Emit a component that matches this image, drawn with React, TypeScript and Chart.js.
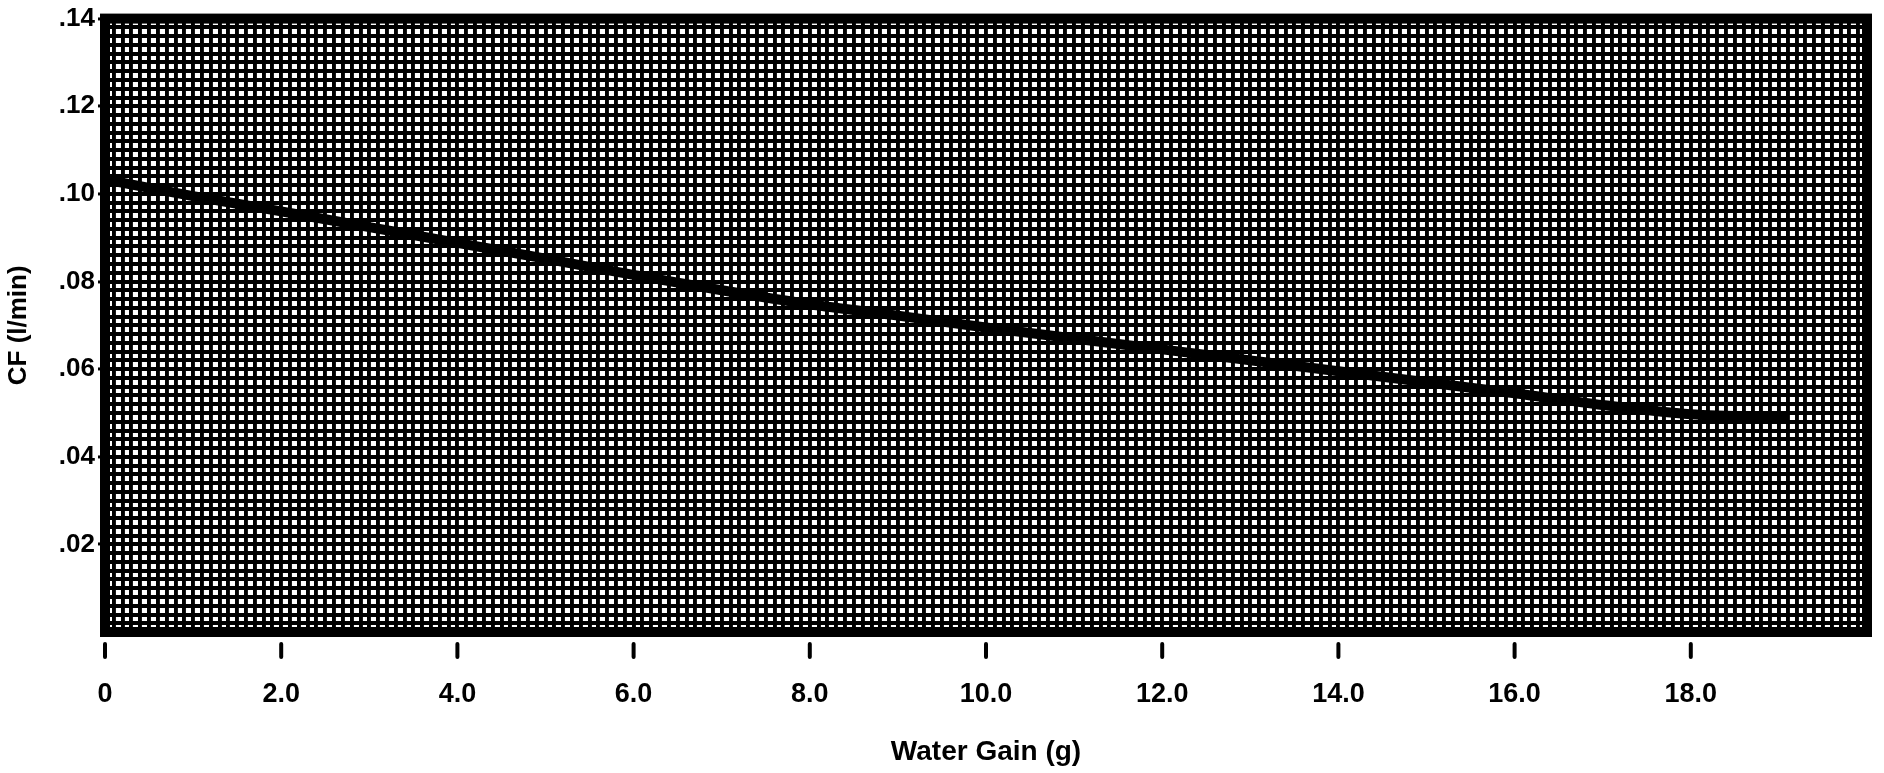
import React, { useEffect, useRef } from "react";
import { Chart, registerables } from "chart.js";

Chart.register(...registerables);

// Data
const waterGain = [0, 1, 2, 3, 4, 5, 6, 7, 8, 9, 10, 11, 12, 13, 14, 15, 16, 17, 18, 19.1];
const cfValues = [
  0.1033, 0.0995, 0.096, 0.0924, 0.0888, 0.0852, 0.0815, 0.078, 0.0748, 0.0722,
  0.0695, 0.067, 0.0645, 0.062, 0.0595, 0.057, 0.0545, 0.0518, 0.0497, 0.049,
];
const xTickValues = [0, 2, 4, 6, 8, 10, 12, 14, 16, 18];
const yTickValues = [0.02, 0.04, 0.06, 0.08, 0.1, 0.12, 0.14];
const xTitle = "Water Gain (g)";
const yTitle = "CF (l/min)";

const FONT = "'Liberation Sans', Arial, Helvetica, sans-serif";
const W = 1884;
const H = 773;

const isXLabel = (v: number) => xTickValues.some((t) => Math.abs(t - v) < 1e-6);
const isYLabel = (v: number) => yTickValues.some((t) => Math.abs(t - v) < 1e-7);

const framePlugin = {
  id: "frame",
  afterDatasetsDraw(chart: any) {
    const { ctx, chartArea } = chart;
    ctx.save();
    ctx.strokeStyle = "#000";
    ctx.lineWidth = 10;
    ctx.strokeRect(
      chartArea.left,
      chartArea.top,
      chartArea.right - chartArea.left,
      chartArea.bottom - chartArea.top
    );
    // x tick marks below the frame
    const xs = chart.scales.x;
    ctx.lineWidth = 4;
    ctx.lineCap = "round";
    for (const v of xTickValues) {
      const px = xs.getPixelForValue(v);
      ctx.beginPath();
      ctx.moveTo(px, chartArea.bottom + 12);
      ctx.lineTo(px, chartArea.bottom + 25);
      ctx.stroke();
    }
    ctx.restore();
  },
};

export default function App() {
  const canvasRef = useRef<HTMLCanvasElement | null>(null);

  useEffect(() => {
    if (!canvasRef.current) return;
    const chart = new Chart(canvasRef.current, {
      type: "line",
      data: {
        datasets: [
          {
            data: waterGain.map((x, i) => ({ x, y: cfValues[i] })),
            borderColor: "#000",
            borderWidth: 10,
            pointRadius: 0,
            tension: 0.3,
            fill: false,
          },
        ],
      },
      options: {
        animation: false,
        responsive: false,
        maintainAspectRatio: false,
        devicePixelRatio: 1,
        layout: { padding: { left: 0, top: 18, right: 17, bottom: 0 } },
        plugins: { legend: { display: false }, tooltip: { enabled: false } },
        scales: {
          x: {
            type: "linear",
            min: 0,
            max: 20,
            afterFit(scale: any) {
              scale.height = 141;
              scale.paddingRight = 0;
              scale.paddingLeft = 0;
            },
            border: { display: false },
            grid: { color: "#000", lineWidth: 3.9, drawTicks: false },
            ticks: {
              stepSize: 0.1,
              autoSkip: false,
              maxRotation: 0,
              padding: 46,
              color: "#000",
              font: { family: FONT, size: 27, weight: "bold" },
              callback: (v: any) => {
                const n = Number(v);
                if (!isXLabel(n)) return "";
                return n === 0 ? "0" : n.toFixed(1);
              },
            },
            title: {
              display: true,
              text: xTitle,
              color: "#000",
              font: { family: FONT, size: 28, weight: "bold" },
              padding: { top: 0, bottom: 4 },
            },
          },
          y: {
            type: "linear",
            min: 0,
            max: 0.14,
            afterFit(scale: any) {
              scale.width = 105;
            },
            border: { display: false },
            grid: {
              color: "#000",
              lineWidth: 3.9,
              drawTicks: true,
              tickLength: 7,
              tickWidth: 3,
              tickColor: (ctx: any) =>
                ctx.tick && isYLabel(ctx.tick.value) ? "#000" : "rgba(0,0,0,0)",
            },
            ticks: {
              stepSize: 0.002,
              autoSkip: false,
              padding: 3,
              color: "#000",
              font: { family: FONT, size: 26, weight: "bold" },
              callback: (v: any) => {
                const n = Number(v);
                if (!isYLabel(n)) return "";
                return n.toFixed(2).replace(/^0/, "");
              },
            },
            title: {
              display: true,
              text: yTitle,
              color: "#000",
              font: { family: FONT, size: 26, weight: "bold" },
              padding: { top: 3, bottom: 0 },
            },
          },
        },
      },
      plugins: [framePlugin],
    });
    return () => chart.destroy();
  }, []);

  return (
    <div
      style={{
        position: "fixed",
        left: 0,
        top: 0,
        width: W + "px",
        height: H + "px",
        background: "#fff",
      }}
    >
      <canvas ref={canvasRef} width={W} height={H} style={{ display: "block" }} />
    </div>
  );
}
